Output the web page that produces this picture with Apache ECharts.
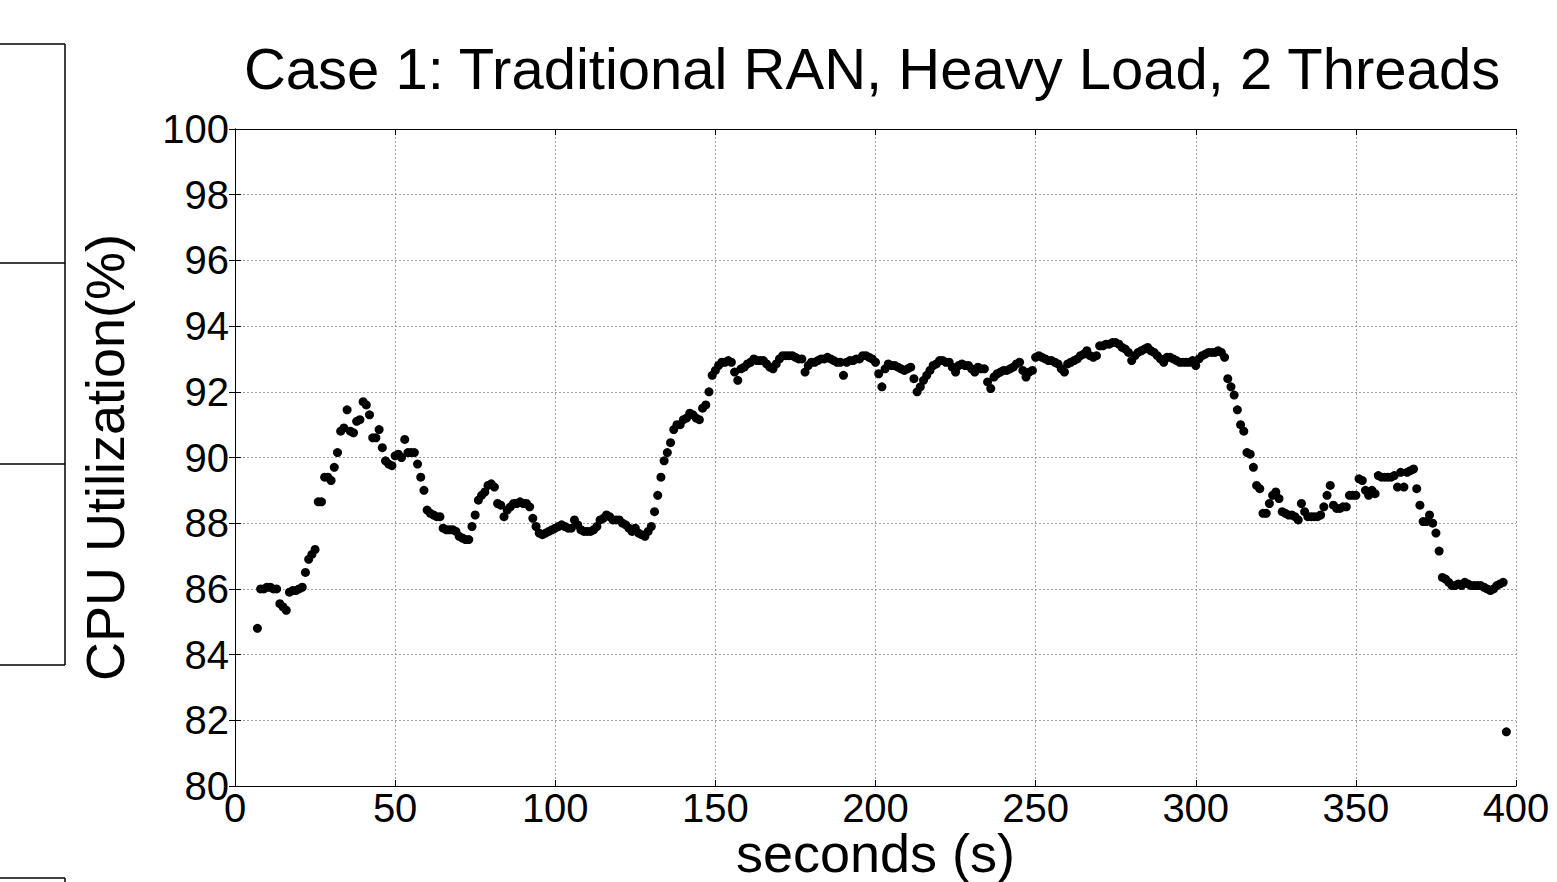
<!DOCTYPE html>
<html>
<head>
<meta charset="utf-8">
<title>Case 1: Traditional RAN, Heavy Load, 2 Threads</title>
<script src="https://cdn.jsdelivr.net/npm/echarts@6/dist/echarts.min.js"></script>
<style>
  html, body { margin: 0; padding: 0; background: #fff; }
  #main { width: 1557px; height: 882px; }
</style>
</head>
<body>
<div id="main"></div>
<script>
// sample time of the first point (s); one sample per second after that
var startSecond = 7

// CPU utilization (%)
var cpuValues = [
  84.8, 86.0, 86.0, 86.05, 86.05, 86.0, 86.0, 85.55, 85.45, 85.35,
  85.9, 85.95, 85.95, 86.0, 86.05, 86.5, 86.9, 87.05, 87.2, 88.65,
  88.65, 89.4, 89.4, 89.3, 89.7, 90.15, 90.8, 90.9, 91.45, 90.8,
  90.75, 91.1, 91.15, 91.7, 91.6, 91.3, 90.6, 90.6, 90.85, 90.3,
  89.9, 89.8, 89.75, 90.05, 90.1, 90.0, 90.55, 90.15, 90.15, 90.15,
  89.8, 89.4, 89.0, 88.4, 88.3, 88.25, 88.2, 88.2, 87.85, 87.8,
  87.8, 87.8, 87.75, 87.6, 87.55, 87.5, 87.5, 87.9, 88.25, 88.7,
  88.85, 88.95, 89.15, 89.2, 89.1, 88.6, 88.55, 88.2, 88.4, 88.5,
  88.6, 88.6, 88.65, 88.6, 88.6, 88.5, 88.15, 87.9, 87.7, 87.65,
  87.7, 87.75, 87.8, 87.85, 87.9, 87.95, 87.9, 87.85, 87.85, 88.1,
  87.95, 87.8, 87.75, 87.75, 87.75, 87.8, 87.9, 88.1, 88.15, 88.25,
  88.2, 88.1, 88.1, 88.1, 88.0, 87.95, 87.85, 87.75, 87.85, 87.7,
  87.65, 87.6, 87.75, 87.9, 88.35, 88.85, 89.4, 89.9, 90.15, 90.45,
  90.85, 91.0, 91.0, 91.15, 91.2, 91.35, 91.3, 91.2, 91.15, 91.5,
  91.6, 92.0, 92.5, 92.65, 92.8, 92.9, 92.9, 92.95, 92.9, 92.6,
  92.35, 92.7, 92.75, 92.85, 92.9, 93.0, 92.95, 92.95, 92.95, 92.85,
  92.75, 92.7, 92.85, 93.0, 93.1, 93.1, 93.1, 93.1, 93.05, 93.0,
  93.0, 92.6, 92.8, 92.9, 92.9, 92.95, 93.0, 93.0, 93.05, 93.0,
  92.95, 92.9, 92.9, 92.5, 92.9, 92.95, 92.95, 93.0, 93.0, 93.1,
  93.1, 93.05, 93.0, 92.9, 92.55, 92.15, 92.7, 92.85, 92.8, 92.8,
  92.75, 92.7, 92.65, 92.7, 92.75, 92.4, 92.0, 92.15, 92.35, 92.5,
  92.65, 92.8, 92.85, 92.95, 92.95, 92.9, 92.9, 92.75, 92.6, 92.8,
  92.85, 92.8, 92.8, 92.7, 92.6, 92.75, 92.7, 92.7, 92.3, 92.1,
  92.45, 92.55, 92.6, 92.65, 92.65, 92.7, 92.75, 92.85, 92.9, 92.65,
  92.45, 92.6, 92.65, 93.05, 93.1, 93.05, 93.0, 92.95, 92.95, 92.9,
  92.85, 92.7, 92.6, 92.85, 92.9, 92.95, 93.0, 93.1, 93.15, 93.25,
  93.1, 93.05, 93.1, 93.4, 93.4, 93.45, 93.45, 93.5, 93.5, 93.45,
  93.35, 93.3, 93.2, 92.95, 93.1, 93.2, 93.25, 93.3, 93.35, 93.25,
  93.2, 93.1, 93.0, 92.9, 93.05, 93.05, 93.0, 92.95, 92.9, 92.9,
  92.9, 92.9, 92.95, 92.8, 93.0, 93.1, 93.15, 93.2, 93.2, 93.2,
  93.25, 93.2, 93.05, 92.4, 92.15, 91.9, 91.45, 91.0, 90.8, 90.15,
  90.1, 89.7, 89.15, 89.05, 88.3, 88.3, 88.6, 88.85, 88.95, 88.75,
  88.35, 88.3, 88.25, 88.25, 88.2, 88.1, 88.6, 88.35, 88.2, 88.2,
  88.2, 88.2, 88.25, 88.5, 88.85, 89.15, 88.55, 88.45, 88.45, 88.5,
  88.5, 88.85, 88.85, 88.85, 89.35, 89.3, 89.0, 88.85, 89.0, 88.9,
  89.45, 89.4, 89.4, 89.4, 89.4, 89.45, 89.1, 89.55, 89.1, 89.55,
  89.6, 89.65, 89.05, 88.55, 88.05, 88.05, 88.25, 88.0, 87.7, 87.15,
  86.35, 86.3, 86.2, 86.1, 86.1, 86.15, 86.1, 86.2, 86.15, 86.1,
  86.1, 86.1, 86.1, 86.05, 86.0, 85.95, 86.0, 86.1, 86.15, 86.2,
  81.65
]

var xTicks = [0, 50, 100, 150, 200, 250, 300, 350, 400]
var yTicks = [80, 82, 84, 86, 88, 90, 92, 94, 96, 98, 100]

var titleText = "Case 1: Traditional RAN, Heavy Load, 2 Threads"
var xName = "seconds (s)"
var yName = "CPU Utilization(%)"

var points = cpuValues.map(function (v, i) {
  return [startSecond + i, v]
})

var font = "'Liberation Sans', Arial, Helvetica, sans-serif"

var gridLine = {
  show: true,
  lineStyle: { color: "#a0a0a0", width: 1, type: [2, 2] }
}
var boxLine = { show: true, lineStyle: { color: "#000", width: 1 } }
var innerTick = { show: true, inside: true, length: 6, lineStyle: { color: "#000", width: 1 } }

// bits of the neighbouring figure cut off at the left edge
function edgeLine(x1, y1, x2, y2) {
  return {
    type: "line",
    shape: { x1: x1, y1: y1, x2: x2, y2: y2 },
    style: { stroke: "#000", lineWidth: 1.5 },
    silent: true
  }
}

var option = {
  backgroundColor: "#fff",
  animation: false,
  textStyle: { fontFamily: font },
  title: {
    text: titleText,
    left: 872,
    top: 39,
    padding: 0,
    textAlign: "center",
    textStyle: { fontFamily: font, fontSize: 58, fontWeight: "normal", color: "#000", lineHeight: 58 }
  },
  grid: { left: 235, right: 41, top: 129, bottom: 96, containLabel: false, outerBoundsMode: "none" },
  xAxis: [
    {
      type: "value",
      min: xTicks[0],
      max: xTicks[xTicks.length - 1],
      interval: xTicks[1] - xTicks[0],
      name: xName,
      nameLocation: "middle",
      nameGap: 42,
      nameMoveOverlap: false,
      nameTextStyle: { fontFamily: font, fontSize: 54, color: "#000", lineHeight: 50 },
      axisLine: boxLine,
      axisTick: innerTick,
      axisLabel: { fontFamily: font, fontSize: 40, color: "#000", margin: 10, lineHeight: 24 },
      splitLine: gridLine
    },
    {
      type: "value",
      position: "top",
      min: xTicks[0],
      max: xTicks[xTicks.length - 1],
      interval: xTicks[1] - xTicks[0],
      axisLine: boxLine,
      axisTick: innerTick,
      axisLabel: { show: false },
      splitLine: { show: false }
    }
  ],
  yAxis: [
    {
      type: "value",
      min: yTicks[0],
      max: yTicks[yTicks.length - 1],
      interval: yTicks[1] - yTicks[0],
      name: yName,
      nameLocation: "middle",
      nameGap: 103,
      nameMoveOverlap: false,
      nameTextStyle: { fontFamily: font, fontSize: 54, color: "#000", lineHeight: 54 },
      axisLine: boxLine,
      axisTick: innerTick,
      axisLabel: { fontFamily: font, fontSize: 40, color: "#000", margin: 6, lineHeight: 24 },
      splitLine: gridLine
    },
    {
      type: "value",
      position: "right",
      min: yTicks[0],
      max: yTicks[yTicks.length - 1],
      interval: yTicks[1] - yTicks[0],
      axisLine: boxLine,
      axisTick: innerTick,
      axisLabel: { show: false },
      splitLine: { show: false }
    }
  ],
  series: [
    {
      name: yName,
      type: "scatter",
      symbol: "circle",
      symbolSize: 9,
      itemStyle: { color: "#000", opacity: 1 },
      data: points
    }
  ],
  graphic: [
    edgeLine(0, 44, 65, 44),
    edgeLine(65, 44, 65, 665),
    edgeLine(0, 263, 65, 263),
    edgeLine(0, 464, 65, 464),
    edgeLine(0, 665, 65, 665),
    edgeLine(0, 878, 65, 878),
    edgeLine(65, 878, 65, 882)
  ]
}

var myChart = echarts.init(document.getElementById("main"), null, { renderer: "svg" })
myChart.setOption(option)
</script>
</body>
</html>
